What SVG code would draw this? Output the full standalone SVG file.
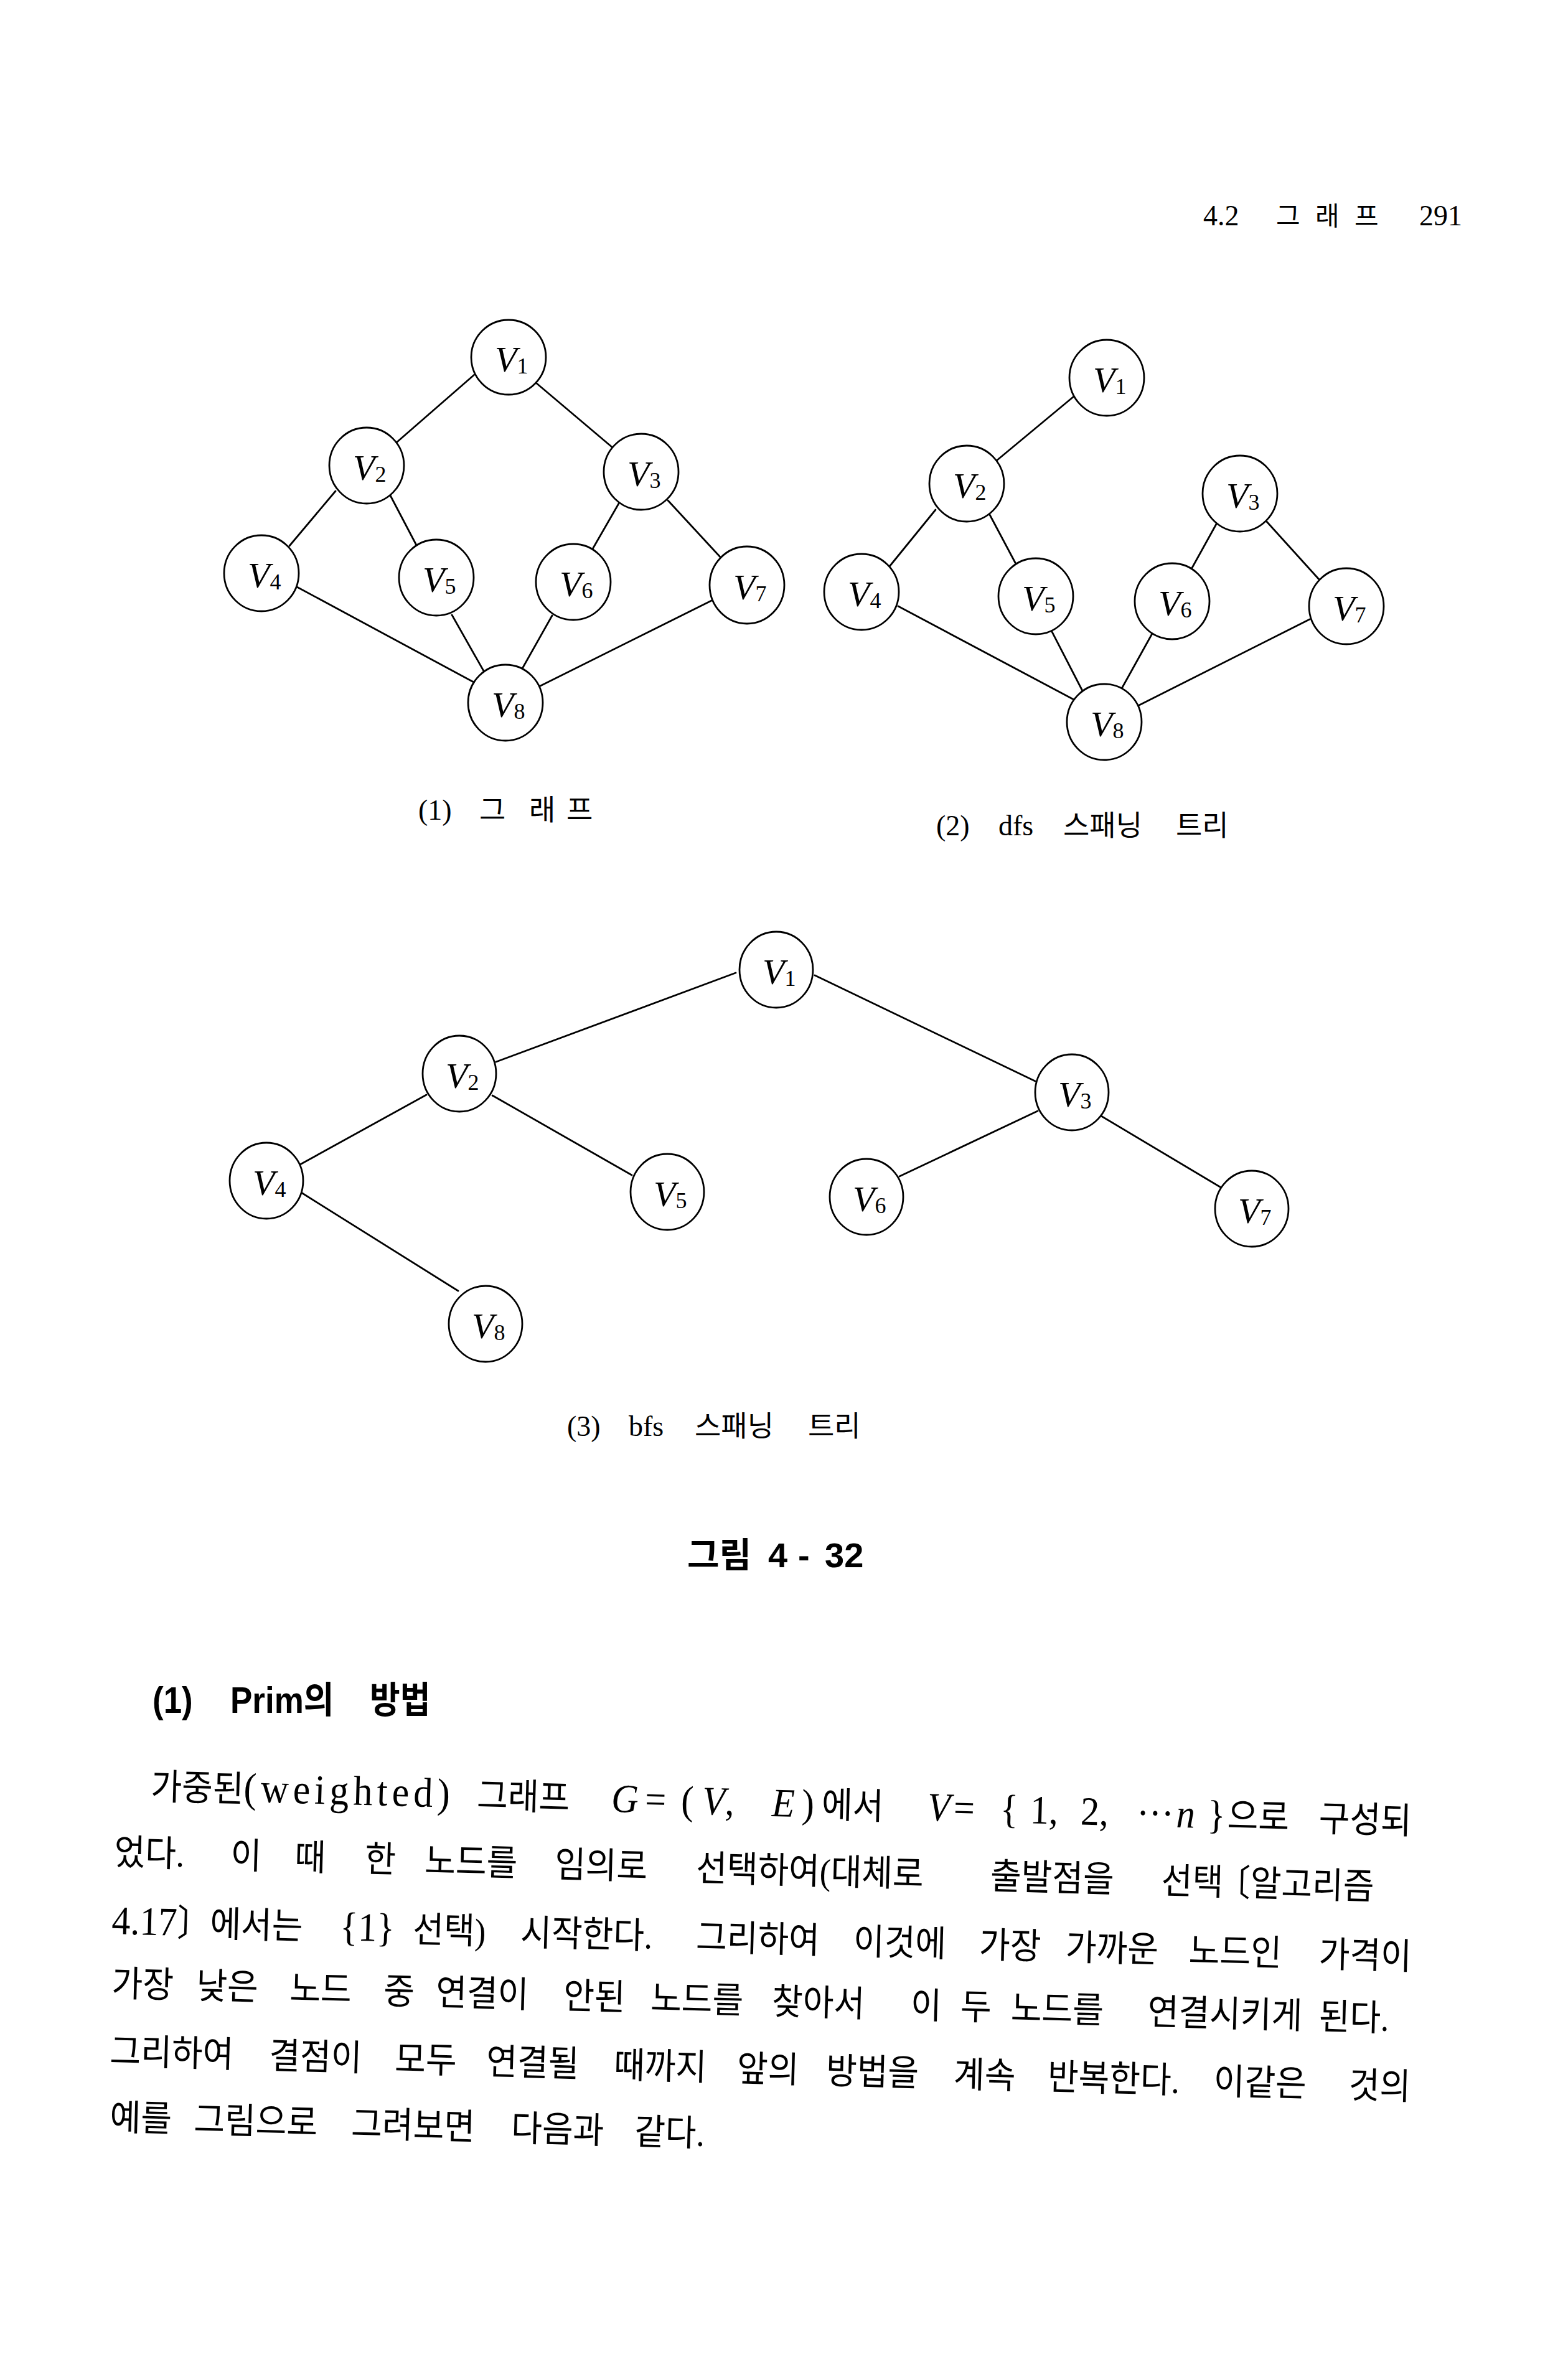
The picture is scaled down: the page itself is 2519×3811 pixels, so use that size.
<svg xmlns="http://www.w3.org/2000/svg" width="2519" height="3811" viewBox="0 0 2519 3811">
<style>
.node ellipse{fill:#fff;stroke:#000;stroke-width:2.8}
.edges line{stroke:#000;stroke-width:2.8;stroke-linecap:round}
.lbl{font-family:"Liberation Serif",serif;font-style:italic;font-size:58px;fill:#000}
.sub{font-style:normal;font-size:36px}
.cap{font-family:"Liberation Serif","Noto Sans CJK KR",serif;font-size:46px;fill:#000}
.body{font-family:"Liberation Serif","Noto Sans CJK KR",serif;font-size:54px;fill:#000}
.m{font-size:60px}
.it{font-style:italic}
.hd{font-family:"Liberation Sans","Noto Sans CJK KR",sans-serif;font-weight:bold;fill:#000}
</style>
<rect width="2519" height="3811" fill="#fff"/>

<!-- page header -->
<text class="cap" y="362" font-size="34"><tspan x="1933">4.2</tspan><tspan x="2050" font-size="42">그</tspan><tspan x="2113" font-size="42">래</tspan><tspan x="2176" font-size="42">프</tspan><tspan x="2280">291</tspan></text>

<!-- connectors -->
<g class="edges" id="edges">
  <!-- graph (1) -->
  <line x1="762" y1="602" x2="638" y2="710"/>
  <line x1="861" y1="615" x2="984" y2="719"/>
  <line x1="539" y1="789" x2="465" y2="877"/>
  <line x1="627" y1="796" x2="669" y2="876"/>
  <line x1="994" y1="809" x2="952" y2="882"/>
  <line x1="1073" y1="804" x2="1158" y2="896"/>
  <line x1="477" y1="943" x2="761" y2="1096"/>
  <line x1="726" y1="988" x2="777" y2="1078"/>
  <line x1="887" y1="989" x2="838" y2="1076"/>
  <line x1="1147" y1="963" x2="866" y2="1103"/>
  <!-- graph (2) dfs -->
  <line x1="1725" y1="637" x2="1601" y2="740"/>
  <line x1="1503" y1="819" x2="1429" y2="910"/>
  <line x1="1590" y1="827" x2="1632" y2="906"/>
  <line x1="1954" y1="842" x2="1913" y2="916"/>
  <line x1="2034" y1="837" x2="2120" y2="932"/>
  <line x1="1443" y1="974" x2="1727" y2="1125"/>
  <line x1="1690" y1="1015" x2="1739" y2="1110"/>
  <line x1="1851" y1="1018" x2="1801" y2="1108"/>
  <line x1="2104" y1="995" x2="1830" y2="1133"/>
  <!-- graph (3) bfs -->
  <line x1="1182" y1="1563" x2="797" y2="1706"/>
  <line x1="1309" y1="1567" x2="1663" y2="1737"/>
  <line x1="685" y1="1759" x2="482" y2="1871"/>
  <line x1="791" y1="1760" x2="1015" y2="1888"/>
  <line x1="1667" y1="1785" x2="1445" y2="1890"/>
  <line x1="1769" y1="1793" x2="1960" y2="1907"/>
  <line x1="484" y1="1916" x2="736" y2="2074"/>
</g>

<!-- graph (1) nodes -->
<g id="g1-v1" class="node"><ellipse cx="817" cy="574" rx="60" ry="60"/><text class="lbl" x="795" y="597">V<tspan class="sub" dy="3">1</tspan></text></g>
<g id="g1-v2" class="node"><ellipse cx="589" cy="748" rx="60" ry="61"/><text class="lbl" x="567" y="771">V<tspan class="sub" dy="3">2</tspan></text></g>
<g id="g1-v3" class="node"><ellipse cx="1030" cy="758" rx="60" ry="61"/><text class="lbl" x="1008" y="781">V<tspan class="sub" dy="3">3</tspan></text></g>
<g id="g1-v4" class="node"><ellipse cx="420" cy="921" rx="60" ry="61"/><text class="lbl" x="398" y="944">V<tspan class="sub" dy="3">4</tspan></text></g>
<g id="g1-v5" class="node"><ellipse cx="701" cy="928" rx="60" ry="61"/><text class="lbl" x="679" y="951">V<tspan class="sub" dy="3">5</tspan></text></g>
<g id="g1-v6" class="node"><ellipse cx="921" cy="935" rx="60" ry="61"/><text class="lbl" x="899" y="958">V<tspan class="sub" dy="3">6</tspan></text></g>
<g id="g1-v7" class="node"><ellipse cx="1200" cy="940" rx="60" ry="62"/><text class="lbl" x="1178" y="963">V<tspan class="sub" dy="3">7</tspan></text></g>
<g id="g1-v8" class="node"><ellipse cx="812" cy="1129" rx="60" ry="61"/><text class="lbl" x="790" y="1152">V<tspan class="sub" dy="3">8</tspan></text></g>
<text class="cap" y="1317"><tspan x="672">(1)</tspan><tspan x="770">그</tspan><tspan x="850">래</tspan><tspan x="910">프</tspan></text>

<!-- graph (2) nodes -->
<g id="g2-v1" class="node"><ellipse cx="1778" cy="607" rx="60" ry="61"/><text class="lbl" x="1756" y="630">V<tspan class="sub" dy="3">1</tspan></text></g>
<g id="g2-v2" class="node"><ellipse cx="1553" cy="777" rx="60" ry="61"/><text class="lbl" x="1531" y="800">V<tspan class="sub" dy="3">2</tspan></text></g>
<g id="g2-v3" class="node"><ellipse cx="1992" cy="793" rx="60" ry="61"/><text class="lbl" x="1970" y="816">V<tspan class="sub" dy="3">3</tspan></text></g>
<g id="g2-v4" class="node"><ellipse cx="1384" cy="951" rx="60" ry="61"/><text class="lbl" x="1362" y="974">V<tspan class="sub" dy="3">4</tspan></text></g>
<g id="g2-v5" class="node"><ellipse cx="1664" cy="958" rx="60" ry="61"/><text class="lbl" x="1642" y="981">V<tspan class="sub" dy="3">5</tspan></text></g>
<g id="g2-v6" class="node"><ellipse cx="1883" cy="966" rx="60" ry="61"/><text class="lbl" x="1861" y="989">V<tspan class="sub" dy="3">6</tspan></text></g>
<g id="g2-v7" class="node"><ellipse cx="2163" cy="974" rx="60" ry="61"/><text class="lbl" x="2141" y="997">V<tspan class="sub" dy="3">7</tspan></text></g>
<g id="g2-v8" class="node"><ellipse cx="1774" cy="1160" rx="60" ry="61"/><text class="lbl" x="1752" y="1183">V<tspan class="sub" dy="3">8</tspan></text></g>
<text class="cap" y="1342"><tspan x="1504">(2)</tspan><tspan x="1604">dfs</tspan><tspan x="1708">스패닝</tspan><tspan x="1889">트리</tspan></text>

<!-- graph (3) nodes -->
<g id="g3-v1" class="node"><ellipse cx="1247" cy="1558" rx="59" ry="61"/><text class="lbl" x="1225" y="1581">V<tspan class="sub" dy="3">1</tspan></text></g>
<g id="g3-v2" class="node"><ellipse cx="738" cy="1725" rx="59" ry="61"/><text class="lbl" x="716" y="1748">V<tspan class="sub" dy="3">2</tspan></text></g>
<g id="g3-v3" class="node"><ellipse cx="1722" cy="1755" rx="59" ry="61"/><text class="lbl" x="1700" y="1778">V<tspan class="sub" dy="3">3</tspan></text></g>
<g id="g3-v4" class="node"><ellipse cx="428" cy="1897" rx="59" ry="61"/><text class="lbl" x="406" y="1920">V<tspan class="sub" dy="3">4</tspan></text></g>
<g id="g3-v5" class="node"><ellipse cx="1072" cy="1915" rx="59" ry="61"/><text class="lbl" x="1050" y="1938">V<tspan class="sub" dy="3">5</tspan></text></g>
<g id="g3-v6" class="node"><ellipse cx="1392" cy="1923" rx="59" ry="61"/><text class="lbl" x="1370" y="1946">V<tspan class="sub" dy="3">6</tspan></text></g>
<g id="g3-v7" class="node"><ellipse cx="2011" cy="1942" rx="59" ry="61"/><text class="lbl" x="1989" y="1965">V<tspan class="sub" dy="3">7</tspan></text></g>
<g id="g3-v8" class="node"><ellipse cx="780" cy="2127" rx="59" ry="61"/><text class="lbl" x="758" y="2150">V<tspan class="sub" dy="3">8</tspan></text></g>
<text class="cap" y="2307"><tspan x="911">(3)</tspan><tspan x="1010">bfs</tspan><tspan x="1116">스패닝</tspan><tspan x="1298">트리</tspan></text>

<!-- figure title -->
<text class="hd" y="2518" font-size="56"><tspan x="1104">그림</tspan><tspan x="1234">4</tspan><tspan x="1282">-</tspan><tspan x="1325">32</tspan></text>

<!-- section heading -->
<text class="hd" y="2752" font-size="53" transform="translate(0 2752) scale(1 1.12) translate(0 -2752)"><tspan x="245">(1)</tspan><tspan x="370">Prim의</tspan><tspan x="594">방법</tspan></text>

<!-- paragraph -->
<text class="body" y="2889" transform="rotate(1.564 180 2889) translate(0 2889) scale(1 1.08) translate(0 -2889)"><tspan x="242">가중된<tspan font-size="62" style="letter-spacing:7px">(weighted)</tspan></tspan><tspan x="766">그래프</tspan><tspan x="982" class="m it">G</tspan><tspan x="1036" class="m">=</tspan><tspan x="1094" class="m">(</tspan><tspan x="1128" class="m"><tspan class="it">V</tspan>,</tspan><tspan x="1240" class="m it">E</tspan><tspan x="1288" class="m">)</tspan><tspan x="1320">에서</tspan><tspan x="1490" class="m it">V</tspan><tspan x="1532" class="m">=</tspan><tspan x="1607" class="m">{</tspan><tspan x="1655" class="m">1,</tspan><tspan x="1736" class="m">2,</tspan><tspan x="1826" class="m">···</tspan><tspan x="1890" class="m it">n</tspan><tspan x="1940" class="m">}</tspan><tspan x="1972">으로</tspan><tspan x="2119">구성되</tspan></text>
<text class="body" y="2996" transform="rotate(1.564 180 2996) translate(0 2996) scale(1 1.08) translate(0 -2996)"><tspan x="183">었다.</tspan><tspan x="370">이</tspan><tspan x="473">때</tspan><tspan x="586">한</tspan><tspan x="682">노드를</tspan><tspan x="891">임의로</tspan><tspan x="1118">선택하여(대체로</tspan><tspan x="1591">출발점을</tspan><tspan x="1866">선택</tspan><tspan x="1955">〔알고리즘</tspan></text>
<text class="body" y="3107" transform="rotate(1.564 180 3107) translate(0 3107) scale(1 1.08) translate(0 -3107)"><tspan x="179" class="m">4.17</tspan><tspan>〕</tspan><tspan x="337">에서는</tspan><tspan x="546" class="m">{1}</tspan><tspan x="663">선택)</tspan><tspan x="836">시작한다.</tspan><tspan x="1118">그리하여</tspan><tspan x="1371">이것에</tspan><tspan x="1573">가장</tspan><tspan x="1712">가까운</tspan><tspan x="1910">노드인</tspan><tspan x="2119">가격이</tspan></text>
<text class="body" y="3207" transform="rotate(1.564 180 3207) translate(0 3207) scale(1 1.08) translate(0 -3207)"><tspan x="179">가장</tspan><tspan x="315">낮은</tspan><tspan x="465">노드</tspan><tspan x="616">중</tspan><tspan x="700">연결이</tspan><tspan x="905">안된</tspan><tspan x="1045">노드를</tspan><tspan x="1240">찾아서</tspan><tspan x="1463">이</tspan><tspan x="1543">두</tspan><tspan x="1624">노드를</tspan><tspan x="1844">연결시키게</tspan><tspan x="2119">된다.</tspan></text>
<text class="body" y="3316" transform="rotate(1.564 180 3316) translate(0 3316) scale(1 1.08) translate(0 -3316)"><tspan x="176">그리하여</tspan><tspan x="432">결점이</tspan><tspan x="634">모두</tspan><tspan x="781">연결될</tspan><tspan x="986">때까지</tspan><tspan x="1184">앞의</tspan><tspan x="1327">방법을</tspan><tspan x="1532">계속</tspan><tspan x="1683">반복한다.</tspan><tspan x="1950">이같은</tspan><tspan x="2167">것의</tspan></text>
<text class="body" y="3422" transform="rotate(1.564 180 3422) translate(0 3422) scale(1 1.08) translate(0 -3422)"><tspan x="176">예를</tspan><tspan x="311">그림으로</tspan><tspan x="564">그려보면</tspan><tspan x="821">다음과</tspan><tspan x="1019">같다.</tspan></text>
</svg>
